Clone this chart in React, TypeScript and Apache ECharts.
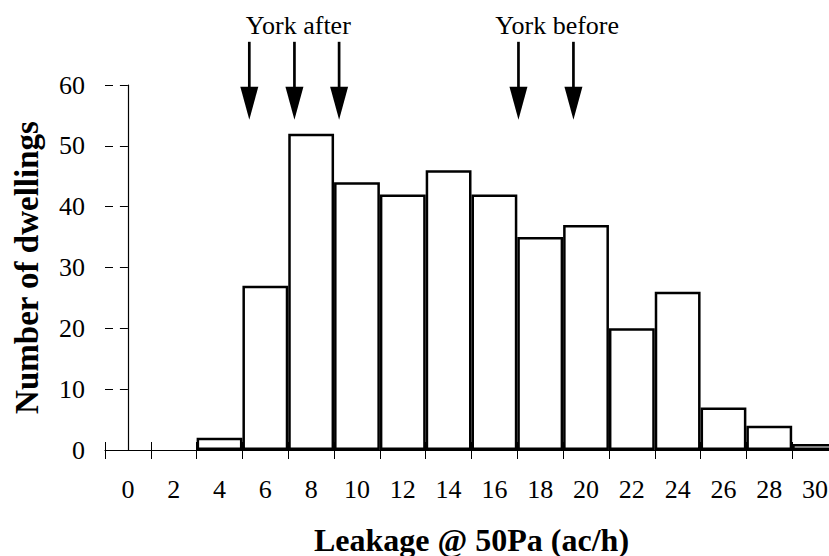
import React, { useEffect, useRef } from "react";
import * as echarts from "echarts";

// ---- data ----
const categories = ["0", "2", "4", "6", "8", "10", "12", "14", "16", "18", "20", "22", "24", "26", "28", "30"];
const dwellings = [0, 0, 2, 27, 52, 44, 42, 46, 42, 35, 37, 20, 26, 7, 4, 1];
const yorkAfterArrows = [5.3, 7.27, 9.22];
const yorkBeforeArrows = [17.05, 19.45];
const annotationLabels = ["York after", "York before"];
const annotationX = [7.44, 18.74];

// ---- layout constants (in y-axis units) ----
const ARROW_TOP = 67.1;
const ARROW_HEAD = 59.7;
const ARROW_TIP = 54.3;
const LABEL_Y = 69.7;

const FONT = "'Liberation Serif', 'Times New Roman', serif";

export default function App() {
  const ref = useRef<HTMLDivElement>(null);

  useEffect(() => {
    if (!ref.current) return;
    document.body.style.margin = "0";
    document.body.style.overflow = "hidden";
    const chart = echarts.init(ref.current, undefined, { renderer: "svg" });

    const arrowData = [...yorkAfterArrows, ...yorkBeforeArrows].map((x) => [x]);
    const labelData = annotationX.map((x) => [x]);

    chart.setOption({
      animation: false,
      backgroundColor: "#fff",
      grid: { left: 105, top: 85, width: 733, height: 365, containLabel: false, outerBoundsMode: "none" },
      xAxis: [
        {
          type: "category",
          data: categories,
          boundaryGap: true,
          axisLine: { show: true, lineStyle: { color: "#000", width: 1.2 } },
          axisTick: { show: true, length: 9, lineStyle: { color: "#000", width: 1 } },
          axisLabel: { interval: 0, margin: 26, fontSize: 26, fontFamily: FONT, color: "#000" },
          splitLine: { show: false },
          name: "Leakage @ 50Pa (ac/h)",
          nameLocation: "middle",
          nameGap: 74,
          nameTextStyle: { fontSize: 32, fontWeight: "bold", fontFamily: FONT, color: "#000" },
        },
        {
          type: "category",
          data: categories,
          position: "bottom",
          boundaryGap: true,
          axisLine: { show: false },
          axisTick: { show: true, inside: true, length: 8, lineStyle: { color: "#000", width: 1 } },
          axisLabel: { show: false },
          splitLine: { show: false },
        },
        { type: "value", min: -1, max: 31, show: false },
      ],
      yAxis: [
        {
          type: "value",
          min: 0,
          max: 60,
          interval: 10,
          axisLine: { show: true, lineStyle: { color: "#000", width: 1.2 } },
          axisTick: { show: true, length: 8, lineStyle: { color: "#000", width: 1 } },
          axisLabel: { margin: 20, fontSize: 26, fontFamily: FONT, color: "#000" },
          splitLine: { show: false },
          name: "Number of dwellings",
          nameLocation: "middle",
          nameGap: 62,
          nameTextStyle: { fontSize: 33, fontWeight: "bold", fontFamily: FONT, color: "#000" },
        },
        {
          type: "value",
          min: 0,
          max: 60,
          interval: 10,
          position: "left",
          axisLine: { show: false },
          axisTick: { show: true, inside: true, length: 8, lineStyle: { color: "#000", width: 1 } },
          axisLabel: { show: false },
          splitLine: { show: false },
        },
      ],
      series: [
        {
          type: "bar",
          xAxisIndex: 0,
          yAxisIndex: 0,
          data: dwellings.map((v) => (v === 0 ? "-" : v)),
          barWidth: "100%",
          barGap: "0%",
          itemStyle: { color: "#fff", borderColor: "#000", borderWidth: 2.5 },
          silent: true,
        },
        {
          type: "custom",
          xAxisIndex: 2,
          yAxisIndex: 0,
          data: arrowData,
          clip: false,
          silent: true,
          renderItem: (params: any, api: any) => {
            const x = api.value(0);
            const top = api.coord([x, ARROW_TOP]);
            const head = api.coord([x, ARROW_HEAD]);
            const tip = api.coord([x, ARROW_TIP]);
            return {
              type: "group",
              children: [
                {
                  type: "line",
                  shape: { x1: top[0], y1: top[1], x2: head[0], y2: head[1] + 2 },
                  style: { stroke: "#000", lineWidth: 2.7 },
                },
                {
                  type: "polygon",
                  shape: {
                    points: [
                      [head[0] - 9, head[1]],
                      [head[0] + 9, head[1]],
                      [tip[0], tip[1]],
                    ],
                  },
                  style: { fill: "#000" },
                },
              ],
            };
          },
        },
        {
          type: "custom",
          xAxisIndex: 2,
          yAxisIndex: 0,
          data: labelData,
          clip: false,
          silent: true,
          renderItem: (params: any, api: any) => {
            const p = api.coord([api.value(0), LABEL_Y]);
            return {
              type: "text",
              x: p[0],
              y: p[1],
              style: {
                text: annotationLabels[params.dataIndex],
                fontSize: 26,
                fontFamily: FONT,
                fill: "#000",
                align: "center",
                verticalAlign: "middle",
              },
            };
          },
        },
      ],
    });

    return () => chart.dispose();
  }, []);

  return (
    <div style={{ position: "absolute", left: 0, top: 0, width: 829, height: 556, overflow: "hidden", background: "#fff" }}>
      <div ref={ref} style={{ width: 840, height: 556 }} />
    </div>
  );
}
